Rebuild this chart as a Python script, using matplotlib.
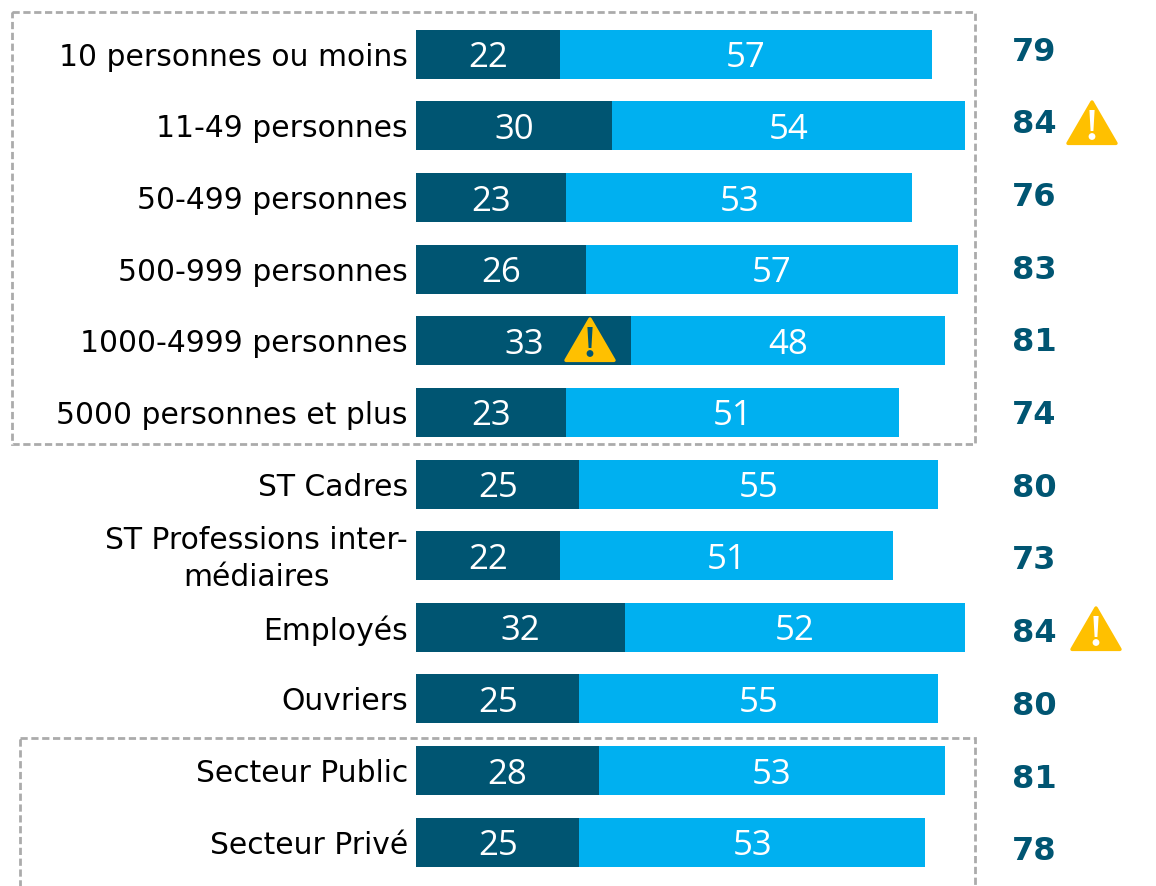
import matplotlib
matplotlib.use('Agg')
import matplotlib.pyplot as plt
from matplotlib.patches import Polygon, Rectangle, Circle

categories = ['10 personnes ou moins', '11-49 personnes', '50-499 personnes',
              '500-999 personnes', '1000-4999 personnes', '5000 personnes et plus',
              'ST Cadres', 'ST Professions inter-\nmédiaires', 'Employés', 'Ouvriers',
              'Secteur Public', 'Secteur Privé']
dark_values = [22, 30, 23, 26, 33, 23, 25, 22, 32, 25, 28, 25]
light_values = [57, 54, 53, 57, 48, 51, 55, 51, 52, 55, 53, 53]
totals = [79, 84, 76, 83, 81, 74, 80, 73, 84, 80, 81, 78]

DARK = '#005572'
LIGHT = '#00B0F0'
YELLOW = '#FFC000'
GREY = '#ABABAB'

W, H = 1156, 886
PX_PER_UNIT = 6.53
X0 = 416
Y0 = 54.3
ROW = 71.63

fig = plt.figure(figsize=(W / 100, H / 100), dpi=100)

# axe principal : barres en unités de données
ax = fig.add_axes([0, 0, 1, 1])
ax.set_xlim(-X0 / PX_PER_UNIT, (W - X0) / PX_PER_UNIT)
ax.set_ylim((H - Y0) / ROW, -Y0 / ROW)
ax.axis('off')

# axe de surcouche en pixels : cadres et icônes
over = fig.add_axes([0, 0, 1, 1], facecolor='none')
over.set_xlim(0, W)
over.set_ylim(H, 0)
over.axis('off')

rows = list(range(len(categories)))
ax.barh(rows, dark_values, height=49 / ROW, color=DARK)
ax.barh(rows, light_values, left=dark_values, height=49 / ROW, color=LIGHT)


def warning(cx, top, size, mark, edge):
    # triangle d'alerte, dessiné en pixels
    h = size * 0.86
    tri = Polygon([[cx, top + 2], [cx - size / 2 + 1.5, top + h - 0.5], [cx + size / 2 - 1.5, top + h - 0.5]],
                  closed=True, facecolor=YELLOW, edgecolor=edge, lw=2.5, joinstyle='round', zorder=5)
    over.add_patch(tri)
    over.add_patch(Polygon([[cx - 2.6, top + 10], [cx + 2.6, top + 10], [cx + 1.4, top + 31], [cx - 1.4, top + 31]],
                           closed=True, facecolor=mark, edgecolor='none', zorder=6))
    over.add_patch(Circle((cx, top + 36.5), 3.4, facecolor=mark, edgecolor='none', zorder=6))


for i in rows:
    ax.text(-8 / PX_PER_UNIT, i + 3 / ROW, categories[i], ha='right', va='center',
            multialignment='center', fontsize=21.4, family='DejaVu Sans', color='black',
            linespacing=1.33)
    ax.text(dark_values[i] / 2, i + 4 / ROW, str(dark_values[i]), ha='center', va='center',
            fontsize=25, family='Open Sans', color='white')
    ax.text(dark_values[i] + light_values[i] / 2, i + 4 / ROW, str(light_values[i]),
            ha='center', va='center', fontsize=25, family='Open Sans', color='white')
    # les totaux ont un pas un peu plus grand que les barres
    over.text(1034, 52 + 72.7 * i, str(totals[i]), ha='center', va='center',
              fontsize=23, fontweight='bold', family='DejaVu Sans', color=DARK)

warning(1092, 100, 51, 'white', YELLOW)
warning(590, 317, 51, DARK, YELLOW)
warning(1096, 606, 51, 'white', YELLOW)

for x, y, w, h in [(12, 12, 963, 432), (20, 738, 955, 160)]:
    over.add_patch(Rectangle((x, y), w, h, fill=False, edgecolor=GREY, lw=2,
                             linestyle=(0, (2.6, 1.3)), zorder=1))

fig.savefig('out.png', dpi=100)
